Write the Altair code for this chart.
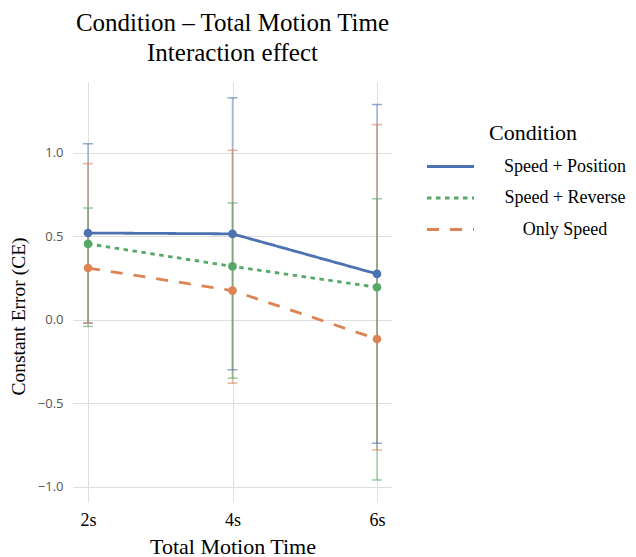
import altair as alt
import pandas as pd

times = ["2s", "4s", "6s"]
conditions = ["Speed + Position", "Speed + Reverse", "Only Speed"]
colors = ["#4c72b0", "#55a868", "#dd8452"]
dashes = [[1, 0], [4.5, 4.5], [12, 11]]

mean_pos = [0.52, 0.515, 0.275]
mean_rev = [0.455, 0.32, 0.195]
mean_only = [0.31, 0.175, -0.115]

# error bars, keyed by the colour they are drawn in
err_pos_low = [-0.02, -0.30, -0.74]
err_pos_high = [1.055, 1.33, 1.29]
err_only_low = [-0.02, -0.38, -0.78]
err_only_high = [0.936, 1.016, 1.17]
err_rev_low = [-0.04, -0.35, -0.96]
err_rev_high = [0.67, 0.70, 0.725]

y_ticks = [-1.0, -0.5, 0.0, 0.5, 1.0]

means = pd.DataFrame({
    "time": times * 3,
    "cond": [conditions[0]] * 3 + [conditions[1]] * 3 + [conditions[2]] * 3,
    "ce": mean_pos + mean_rev + mean_only,
})

# draw order: blue, orange, green
errs = pd.DataFrame({
    "time": times * 3,
    "cond": [conditions[0]] * 3 + [conditions[2]] * 3 + [conditions[1]] * 3,
    "lo": err_pos_low + err_only_low + err_rev_low,
    "hi": err_pos_high + err_only_high + err_rev_high,
})
errs["order"] = range(len(errs))

SERIF = "Liberation Serif"
SANS = "Open Sans"

x_enc = alt.X(
    "time:O",
    sort=times,
    scale=alt.Scale(type="point", padding=0.104),
    axis=alt.Axis(
        title="Total Motion Time", labelAngle=0, labelFont=SERIF, labelFontSize=18,
        labelColor="#000", labelPadding=9, titleFont=SERIF, titleFontSize=22,
        titleFontWeight="normal", titleColor="#000", titlePadding=7,
        domain=False, ticks=False, grid=True, gridColor="#dedede",
    ),
)
y_scale = alt.Scale(domain=[-1.092, 1.425], nice=False, zero=False)
y_axis = alt.Axis(
    title="Constant Error (CE)", values=y_ticks, format=".1f", labelFont=SANS,
    labelFontSize=13, labelColor="#555", labelPadding=10, titleFont=SERIF,
    titleFontSize=19.5, titleFontWeight="normal", titleColor="#000", titlePadding=9,
    titleY=234, domain=False, ticks=False, grid=True, gridColor="#dedede",
)
color_scale = alt.Scale(domain=conditions, range=colors)
dash_scale = alt.Scale(domain=conditions, range=dashes)

base_err = alt.Chart(errs)
rules = base_err.mark_rule(strokeWidth=1.5, opacity=0.5).encode(
    x=x_enc,
    y=alt.Y("lo:Q", scale=y_scale, axis=y_axis),
    y2="hi:Q",
    color=alt.Color("cond:N", scale=color_scale, sort=conditions),
    order="order:Q",
)
caps_lo = base_err.mark_tick(size=10, thickness=1.5, opacity=0.6, orient="horizontal").encode(
    x=x_enc, y=alt.Y("lo:Q", scale=y_scale),
    color=alt.Color("cond:N", scale=color_scale, sort=conditions), order="order:Q",
)
caps_hi = base_err.mark_tick(size=10, thickness=1.5, opacity=0.6, orient="horizontal").encode(
    x=x_enc, y=alt.Y("hi:Q", scale=y_scale),
    color=alt.Color("cond:N", scale=color_scale, sort=conditions), order="order:Q",
)

lines = alt.Chart(means).mark_line(strokeWidth=2.8).encode(
    x=x_enc,
    y=alt.Y("ce:Q", scale=y_scale),
    color=alt.Color("cond:N", scale=color_scale, sort=conditions, title="Condition"),
    strokeDash=alt.StrokeDash("cond:N", scale=dash_scale, sort=conditions, title="Condition"),
    detail="cond:N",
)
points = alt.Chart(means).mark_circle(size=75, opacity=1).encode(
    x=x_enc,
    y=alt.Y("ce:Q", scale=y_scale),
    color=alt.Color("cond:N", scale=color_scale, sort=conditions),
)

chart = alt.layer(rules, caps_lo, caps_hi, lines, points).properties(
    width=319,
    height=420,
    title=alt.TitleParams(
        text=["Condition – Total Motion Time", "Interaction effect"],
        font=SERIF, fontSize=25, fontWeight="normal", color="#000",
        anchor="middle", offset=16, lineHeight=30,
    ),
    autosize=alt.AutoSizeParams(type="none"),
    padding={"left": 65, "top": 74, "right": 236, "bottom": 60},
).configure_view(stroke=None).configure_legend(
    orient="none", legendX=366, legendY=41,
    titleFont=SERIF, titleFontSize=22, titleFontWeight="normal", titleColor="#000",
    titleAnchor="middle", titlePadding=10,
    labelFont=SERIF, labelFontSize=18, labelColor="#000",
    labelAlign="center", labelOffset=103,
    symbolType="M-2.35,0H2.35", symbolSize=400, symbolStrokeWidth=3, symbolOpacity=1,
    rowPadding=10.5, labelLimit=300,
)

chart.save("out.html", embed_options={"renderer": "svg", "actions": False})
